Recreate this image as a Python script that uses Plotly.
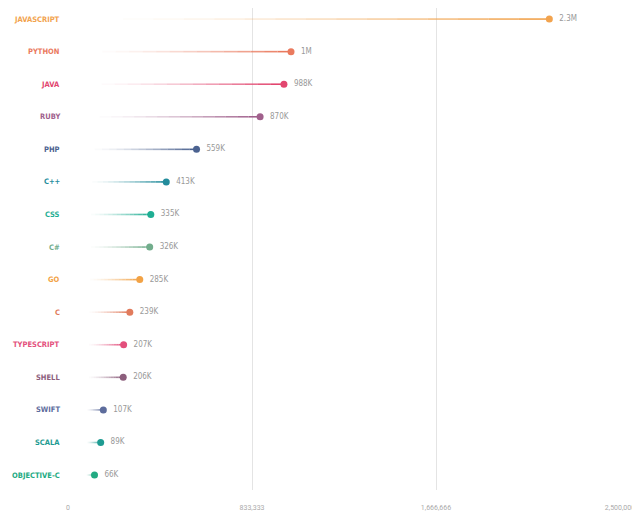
import plotly.graph_objects as go

languages = ["JAVASCRIPT","PYTHON","JAVA","RUBY","PHP","C++","CSS","C#","GO","C","TYPESCRIPT","SHELL","SWIFT","SCALA","OBJECTIVE-C"]
values = [2180000,1010000,978000,870000,582000,445000,375000,370000,325000,280000,252000,250000,160000,148000,120000]
value_labels = ["2.3M","1M","988K","870K","559K","413K","335K","326K","285K","239K","207K","206K","107K","89K","66K"]
colors = ["#f2a34e","#ea7a5e","#e2466f","#a0608c","#4b6290","#238c9c","#1fae93","#72ad8c","#f2a245","#e17b5c","#e34f7c","#8c5e7c","#5d6c9c","#1e9b92","#22aa82"]
tick_vals = [0,833333,1666666,2500000]
tick_text = ["0","833,333","1,666,666","2,500,000"]

fig = go.Figure()
nseg = 14
for i,(lang,v,c) in enumerate(zip(languages,values,colors)):
    start = 0.06*2500000*0.5 + 0.08*v
    for k in range(nseg):
        a = start + (v-start)*k/nseg
        b = start + (v-start)*(k+1)/nseg
        fig.add_trace(go.Scatter(x=[a,b], y=[i,i], mode="lines",
            line=dict(color=c, width=1.6), opacity=((k+1)/nseg)**1.5,
            hoverinfo="skip", showlegend=False))
    fig.add_trace(go.Scatter(x=[v], y=[i], mode="markers+text", marker=dict(color=c, size=7),
        text=["  "+value_labels[i]], textposition="middle right",
        textfont=dict(family="DejaVu Sans Condensed, Roboto", size=8, color="#999999"), showlegend=False))

for i,(lang,c) in enumerate(zip(languages,colors)):
    fig.add_annotation(x=0, y=i, xref="paper", yref="y", text="<b>"+lang+"</b>", showarrow=False,
        xanchor="right", xshift=-6, font=dict(family="DejaVu Sans Condensed, Roboto", size=7.5, color=c))

fig.update_layout(width=632, height=512, autosize=False, margin=dict(l=60, r=20, t=0, b=30, autoexpand=False),
    plot_bgcolor="white", paper_bgcolor="white", showlegend=False)
fig.update_xaxes(range=[0,2500000], tickvals=tick_vals, ticktext=tick_text, showgrid=True,
    gridcolor="#e4e4e4", gridwidth=1, zeroline=False, ticklabelstandoff=12,
    tickfont=dict(family="Roboto", size=7, color="#aaaaaa"), showline=False)
fig.update_yaxes(range=[14.46,-0.34], showticklabels=False, showgrid=False, zeroline=False)
fig.write_html("out.html")
